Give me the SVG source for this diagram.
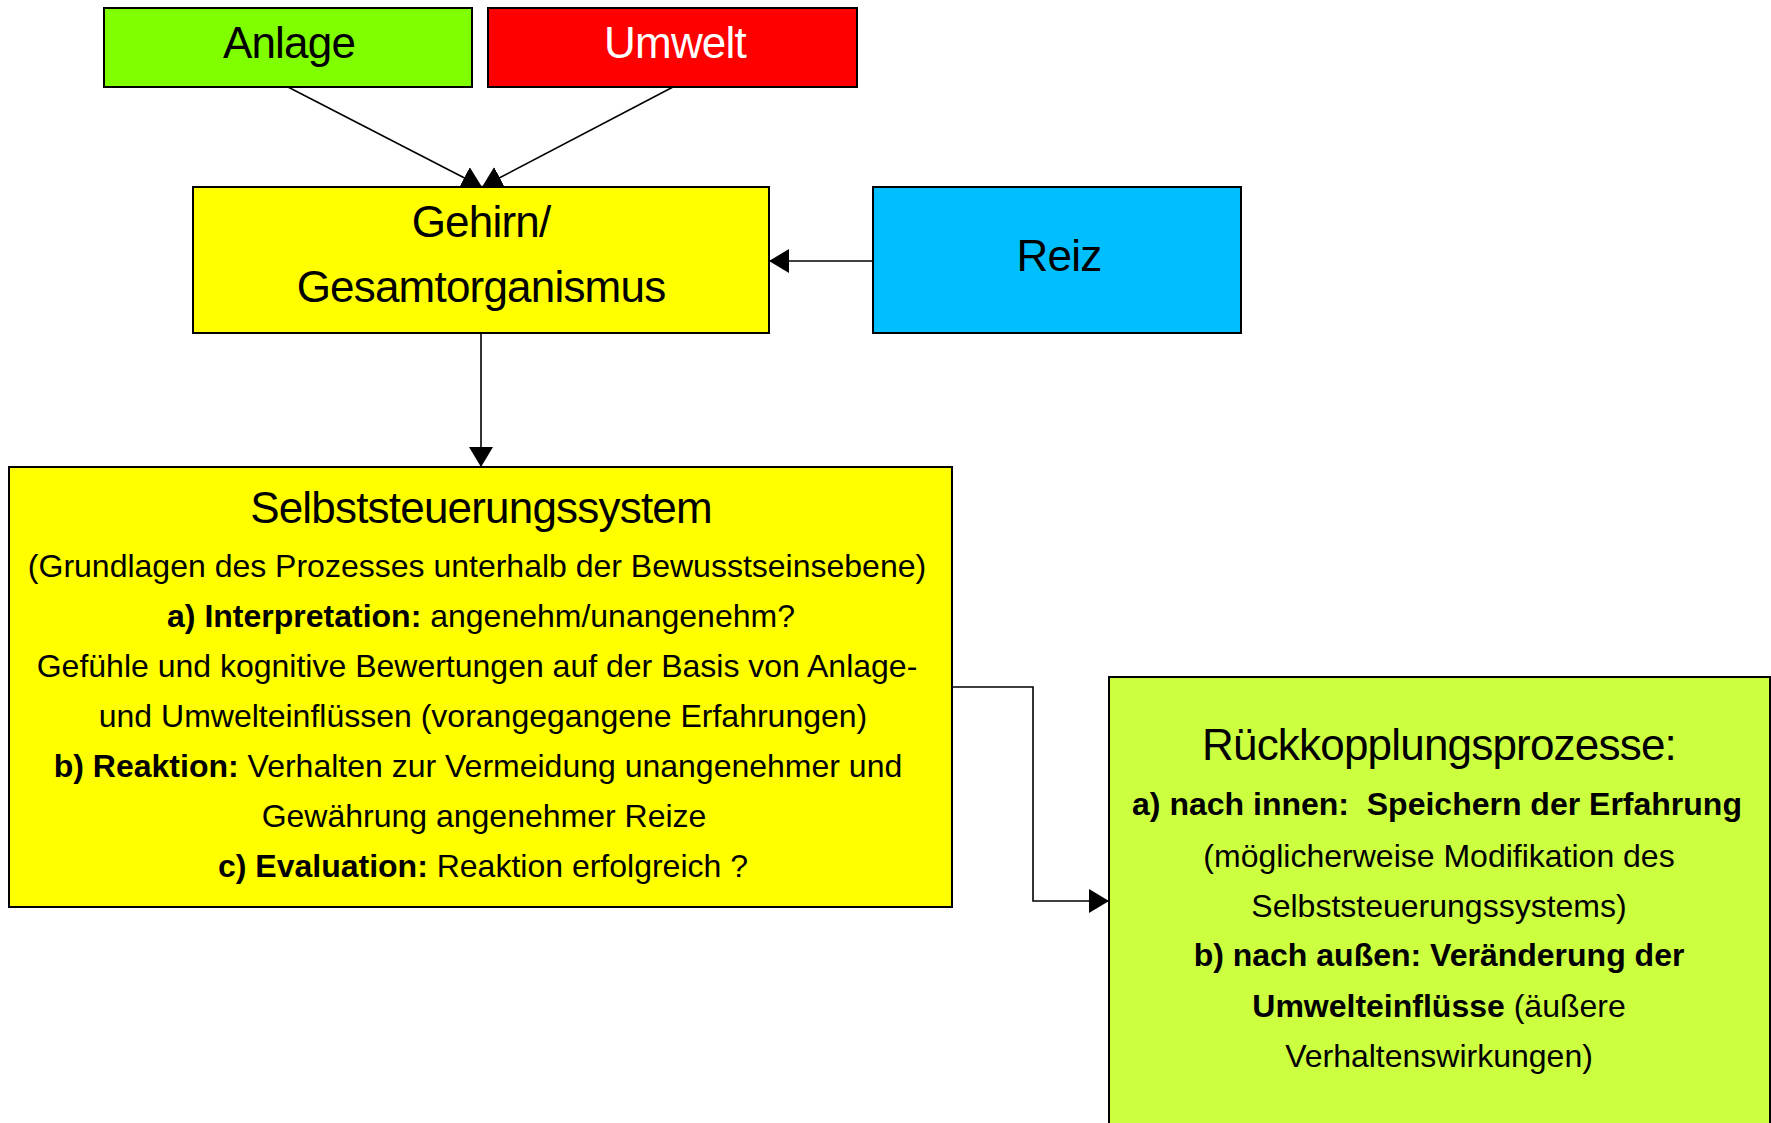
<svg xmlns="http://www.w3.org/2000/svg" width="1771" height="1123" viewBox="0 0 1771 1123">
<defs>
<style>
.box{stroke:#000;stroke-width:2}
.t{font-family:"Liberation Sans",Arial,sans-serif;font-size:44px;letter-spacing:-0.8px;text-anchor:middle;fill:#000}
.b{font-family:"Liberation Sans",Arial,sans-serif;font-size:32px;text-anchor:middle;fill:#000;white-space:pre}
.bd{font-weight:bold}
.con{fill:none;stroke:#000;stroke-width:1.6}
</style>
<marker id="arr" viewBox="0 0 20 24" refX="20" refY="12" markerWidth="20" markerHeight="24" markerUnits="userSpaceOnUse" orient="auto">
<path d="M0,0 L20,12 L0,24 Z" fill="#000"/>
</marker>
</defs>
<rect width="1771" height="1123" fill="#fff"/>
<g id="connectors">
<line class="con" x1="288" y1="87" x2="482" y2="187" marker-end="url(#arr)"/>
<line class="con" x1="673" y1="87" x2="482" y2="187" marker-end="url(#arr)"/>
<line class="con" x1="873" y1="261" x2="769" y2="261" marker-end="url(#arr)"/>
<line class="con" x1="481" y1="333" x2="481" y2="467" marker-end="url(#arr)"/>
<path class="con" d="M949,687 H1033 V901 H1109" marker-end="url(#arr)"/>
</g>
<g id="anlage">
<rect class="box" x="104" y="8" width="368" height="79" fill="#80FF00"/>
<text class="t" x="289" y="58">Anlage</text>
</g>
<g id="umwelt">
<rect class="box" x="488" y="8" width="369" height="79" fill="#FF0000"/>
<text class="t" x="675" y="58" fill="#fff" style="fill:#fff">Umwelt</text>
</g>
<g id="gehirn">
<rect class="box" x="193" y="187" width="576" height="146" fill="#FFFF00"/>
<text class="t" x="481" y="237">Gehirn/</text>
<text class="t" x="481" y="302">Gesamtorganismus</text>
</g>
<g id="reiz">
<rect class="box" x="873" y="187" width="368" height="146" fill="#00BFFF"/>
<text class="t" x="1059" y="271">Reiz</text>
</g>
<g id="selbststeuerung">
<rect class="box" x="9" y="467" width="943" height="440" fill="#FFFF00"/>
<text class="t" x="481" y="523">Selbststeuerungssystem</text>
<text class="b" x="477" y="577">(Grundlagen des Prozesses unterhalb der Bewusstseinsebene)</text>
<text class="b" x="481" y="627"><tspan class="bd">a) Interpretation:</tspan> angenehm/unangenehm?</text>
<text class="b" x="477" y="677">Gefühle und kognitive Bewertungen auf der Basis von Anlage-</text>
<text class="b" x="483" y="727">und Umwelteinflüssen (vorangegangene Erfahrungen)</text>
<text class="b" x="478" y="777"><tspan class="bd">b) Reaktion:</tspan> Verhalten zur Vermeidung unangenehmer und</text>
<text class="b" x="484" y="827">Gewährung angenehmer Reize</text>
<text class="b" x="483" y="877"><tspan class="bd">c) Evaluation:</tspan> Reaktion erfolgreich ?</text>
</g>
<g id="rueckkopplung">
<rect class="box" x="1109" y="677" width="661" height="460" fill="#CCFF40"/>
<text class="t" x="1439" y="760">Rückkopplungsprozesse:</text>
<text class="b bd" x="1437" y="815">a) nach innen:  Speichern der Erfahrung</text>
<text class="b" x="1439" y="867">(möglicherweise Modifikation des</text>
<text class="b" x="1439" y="917">Selbststeuerungssystems)</text>
<text class="b bd" x="1439" y="966">b) nach außen: Veränderung der</text>
<text class="b" x="1439" y="1017"><tspan class="bd">Umwelteinflüsse</tspan> (äußere</text>
<text class="b" x="1439" y="1067">Verhaltenswirkungen)</text>
</g>
</svg>
